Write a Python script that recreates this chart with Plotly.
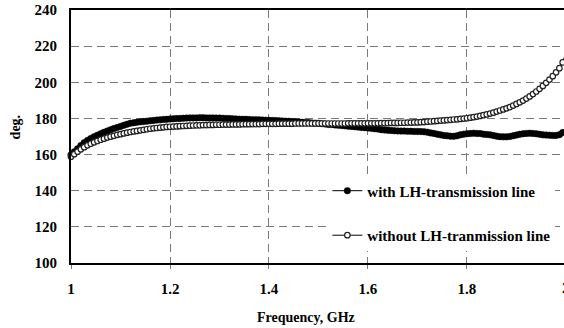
import numpy as np
import plotly.graph_objects as go

# Frequency grid (GHz), 151 sweep points
freq = np.linspace(1.0, 2.0, 151)

with_lh = [
    159.8, 161.5, 163.2, 165.0, 166.6, 167.8, 168.9, 169.8, 170.7, 171.5,
    172.3, 173.0, 173.7, 174.4, 175.0, 175.6, 176.2, 176.8, 177.3, 177.6,
    177.9, 178.1, 178.3, 178.5, 178.7, 178.9, 179.1, 179.2, 179.4, 179.5,
    179.7, 179.8, 179.9, 180.0, 180.1, 180.2, 180.3, 180.3, 180.3, 180.4,
    180.4, 180.3, 180.3, 180.3, 180.2, 180.2, 180.1, 180.0, 179.9, 179.8,
    179.7, 179.6, 179.5, 179.5, 179.4, 179.3, 179.3, 179.2, 179.1, 179.0,
    179.0, 178.9, 178.8, 178.7, 178.6, 178.5, 178.4, 178.3, 178.2, 178.0,
    177.9, 177.8, 177.7, 177.5, 177.4, 177.3, 177.1, 176.9, 176.7, 176.6,
    176.4, 176.2, 176.1, 175.9, 175.7, 175.6, 175.4, 175.2, 175.0, 174.9,
    174.7, 174.5, 174.3, 174.1, 173.8, 173.6, 173.4, 173.3, 173.2, 173.1,
    173.0, 173.0, 172.9, 172.9, 172.8, 172.8, 172.7, 172.6, 172.4, 172.0,
    171.7, 171.3, 170.9, 170.6, 170.4, 170.2, 170.1, 170.4, 170.9, 171.3,
    171.5, 171.7, 171.8, 171.7, 171.6, 171.3, 171.1, 170.9, 170.6, 170.2,
    169.9, 169.8, 169.8, 170.0, 170.4, 170.8, 171.2, 171.5, 171.7, 171.8,
    171.7, 171.5, 171.2, 170.9, 170.8, 170.7, 170.6, 170.6, 171.0, 172.2,
    173.3,
]

without_lh = [
    158.8, 160.2, 161.6, 162.9, 164.1, 165.1, 166.0, 166.8, 167.5, 168.2,
    168.8, 169.4, 169.9, 170.4, 170.9, 171.3, 171.7, 172.1, 172.5, 172.8,
    173.1, 173.4, 173.7, 174.0, 174.3, 174.5, 174.7, 174.9, 175.1, 175.3,
    175.4, 175.5, 175.6, 175.7, 175.8, 175.9, 176.0, 176.1, 176.2, 176.2,
    176.3, 176.3, 176.4, 176.4, 176.5, 176.5, 176.6, 176.6, 176.6, 176.7,
    176.7, 176.7, 176.8, 176.8, 176.8, 176.9, 176.9, 176.9, 177.0, 177.0,
    177.0, 177.0, 177.0, 177.1, 177.1, 177.1, 177.1, 177.1, 177.2, 177.2,
    177.2, 177.2, 177.2, 177.2, 177.2, 177.2, 177.2, 177.2, 177.2, 177.2,
    177.2, 177.2, 177.2, 177.2, 177.3, 177.3, 177.3, 177.3, 177.3, 177.3,
    177.3, 177.3, 177.3, 177.3, 177.4, 177.4, 177.4, 177.5, 177.5, 177.5,
    177.6, 177.6, 177.7, 177.7, 177.8, 177.8, 177.9, 178.0, 178.2, 178.3,
    178.5, 178.6, 178.8, 178.9, 179.1, 179.2, 179.4, 179.5, 179.7, 179.9,
    180.1, 180.4, 180.7, 181.0, 181.4, 181.8, 182.2, 182.7, 183.2, 183.8,
    184.4, 185.0, 185.6, 186.3, 187.1, 188.0, 188.9, 189.9, 191.0, 192.2,
    193.5, 194.9, 196.4, 198.0, 199.7, 201.5, 203.4, 205.5, 207.8, 211.0,
    217.0,
]

x_ticks = [1.0, 1.2, 1.4, 1.6, 1.8]
x_tick_text = ["1", "1.2", "1.4", "1.6", "1.8"]
y_ticks = [100, 120, 140, 160, 180, 200, 220, 240]

FONT = "Liberation Serif, Times New Roman, serif"
FS = 15

fig = go.Figure()
fig.add_trace(go.Scatter(
    x=freq, y=with_lh, mode="lines+markers", name="with LH-transmission line",
    line=dict(color="black", width=1),
    marker=dict(symbol="circle", size=6.5, color="black", line=dict(color="black", width=0.5)),
    legendgroup="a", cliponaxis=False,
))
fig.add_trace(go.Scatter(
    x=freq, y=without_lh, mode="lines+markers", name="without LH-tranmission line",
    line=dict(color="black", width=1),
    marker=dict(symbol="circle", size=5.5, color="white", line=dict(color="#222", width=1.2)),
    legendgroup="b", cliponaxis=False,
))

fig.update_layout(
    width=564, height=328,
    margin=dict(l=71, r=0, t=10, b=65),
    paper_bgcolor="white", plot_bgcolor="white",
    font=dict(family=FONT, size=FS, color="black", weight="bold"),
    showlegend=True,
    legend=dict(
        x=0.52, y=0.35, xanchor="left", yanchor="top",
        bgcolor="white", borderwidth=0,
        font=dict(family=FONT, size=FS, color="black", weight="bold"),
        tracegroupgap=22, traceorder="grouped",
    ),
    xaxis=dict(
        range=[1.0, 1.996], tickvals=x_ticks, ticktext=x_tick_text,
        showline=True, linecolor="black", linewidth=2, mirror=True,
        showgrid=True, gridcolor="#7a7a7a", gridwidth=1.3, griddash="8px,5px",
        ticks="outside", ticklen=4, tickcolor="#7a7a7a", tickwidth=1,
        zeroline=False, ticklabelstandoff=7,
        tickfont=dict(family=FONT, size=FS, color="black", weight="bold"),
    ),
    yaxis=dict(
        range=[100, 240], tickvals=y_ticks,
        showline=True, linecolor="black", linewidth=2, mirror=False,
        showgrid=True, gridcolor="#7a7a7a", gridwidth=1.3, griddash="8px,5px",
        ticks="", zeroline=False, ticklabelstandoff=9,
        tickfont=dict(family=FONT, size=FS, color="black", weight="bold"),
    ),
    annotations=[
        dict(text="2", xref="paper", yref="paper", x=1.004, y=-0.099,
             showarrow=False, xanchor="center", yanchor="middle",
             font=dict(family=FONT, size=FS, color="black", weight="bold")),
        dict(text="Frequency, GHz", xref="paper", yref="paper", x=0.477, y=-0.217,
             showarrow=False, xanchor="center", yanchor="middle",
             font=dict(family=FONT, size=14, color="black", weight="bold")),
        dict(text="deg.", xref="paper", yref="paper", x=-0.1136, y=0.54,
             showarrow=False, xanchor="center", yanchor="middle", textangle=-90,
             font=dict(family=FONT, size=14, color="black", weight="bold")),
    ],
)

fig.write_html(
    "out.html",
    config={"displayModeBar": False},
    post_script="document.body.style.margin='0';document.documentElement.style.overflow='hidden';",
)
